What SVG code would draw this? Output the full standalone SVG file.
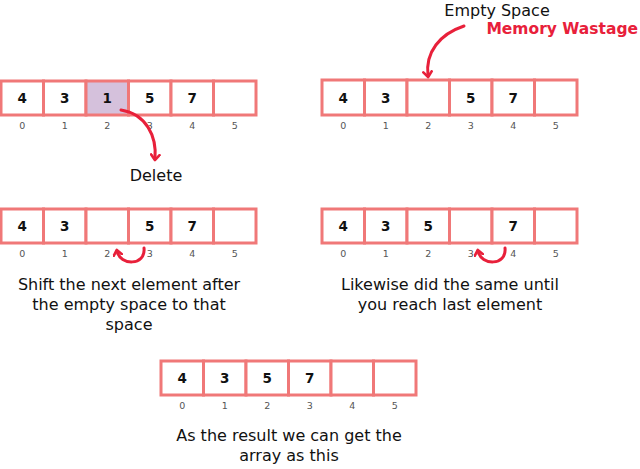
<svg xmlns="http://www.w3.org/2000/svg" width="640" height="469" viewBox="0 0 640 469">
<defs>
<style>
.cell{fill:#fff;stroke:#f07878;stroke-width:3}
.hl{fill:#d5c1dc}
.v{font-family:"DejaVu Sans","Noto Sans",sans-serif;font-weight:700;font-size:13.5px;fill:#111;text-anchor:middle}
.i{font-family:"DejaVu Sans","Noto Sans",sans-serif;font-size:9.5px;fill:#555;text-anchor:middle}
.t{font-family:"DejaVu Sans","Noto Sans",sans-serif;font-size:16px;fill:#111;text-anchor:middle}
.r{font-family:"DejaVu Sans","Noto Sans",sans-serif;font-size:15.5px;font-weight:700;fill:#e8203a;text-anchor:end}
.arr{fill:none;stroke:#e8203a;stroke-width:3;stroke-linecap:round}
</style>
<marker id="ah" viewBox="0 0 10 10" refX="5" refY="5" markerWidth="3.5" markerHeight="3.5" orient="auto">
<path d="M1,1 L6,5 L1,9" fill="none" stroke="#e8203a" stroke-width="2.5" stroke-linecap="round" stroke-linejoin="round"/>
</marker>
</defs>
<rect width="640" height="469" fill="#fff"/>

<g id="array1">
<rect class="cell" x="1" y="81" width="42.5" height="34"/>
<rect class="cell" x="43.5" y="81" width="42.5" height="34"/>
<rect class="cell hl" x="86" y="81" width="42.5" height="34"/>
<rect class="cell" x="128.5" y="81" width="42.5" height="34"/>
<rect class="cell" x="171" y="81" width="42.5" height="34"/>
<rect class="cell" x="213.5" y="81" width="42.5" height="34"/>
<text class="v" x="22.3" y="103">4</text>
<text class="v" x="64.8" y="103">3</text>
<text class="v" x="107.3" y="103">1</text>
<text class="v" x="149.8" y="103">5</text>
<text class="v" x="192.3" y="103">7</text>
<g class="i"><text x="22.3" y="129">0</text><text x="64.8" y="129">1</text><text x="107.3" y="129">2</text><text x="149.8" y="129">3</text><text x="192.3" y="129">4</text><text x="234.8" y="129">5</text></g>
</g>

<g id="array2">
<rect class="cell" x="322" y="80" width="42.5" height="35"/>
<rect class="cell" x="364.5" y="80" width="42.5" height="35"/>
<rect class="cell" x="407" y="80" width="42.5" height="35"/>
<rect class="cell" x="449.5" y="80" width="42.5" height="35"/>
<rect class="cell" x="492" y="80" width="42.5" height="35"/>
<rect class="cell" x="534.5" y="80" width="42.5" height="35"/>
<text class="v" x="343.3" y="103">4</text>
<text class="v" x="385.8" y="103">3</text>
<text class="v" x="470.8" y="103">5</text>
<text class="v" x="513.3" y="103">7</text>
<g class="i"><text x="343.3" y="129">0</text><text x="385.8" y="129">1</text><text x="428.3" y="129">2</text><text x="470.8" y="129">3</text><text x="513.3" y="129">4</text><text x="555.8" y="129">5</text></g>
</g>

<g id="array3">
<rect class="cell" x="1" y="209" width="42.5" height="34"/>
<rect class="cell" x="43.5" y="209" width="42.5" height="34"/>
<rect class="cell" x="86" y="209" width="42.5" height="34"/>
<rect class="cell" x="128.5" y="209" width="42.5" height="34"/>
<rect class="cell" x="171" y="209" width="42.5" height="34"/>
<rect class="cell" x="213.5" y="209" width="42.5" height="34"/>
<text class="v" x="22.3" y="231">4</text>
<text class="v" x="64.8" y="231">3</text>
<text class="v" x="149.8" y="231">5</text>
<text class="v" x="192.3" y="231">7</text>
<g class="i"><text x="22.3" y="257">0</text><text x="64.8" y="257">1</text><text x="107.3" y="257">2</text><text x="149.8" y="257">3</text><text x="192.3" y="257">4</text><text x="234.8" y="257">5</text></g>
</g>

<g id="array4">
<rect class="cell" x="322" y="209" width="42.5" height="34"/>
<rect class="cell" x="364.5" y="209" width="42.5" height="34"/>
<rect class="cell" x="407" y="209" width="42.5" height="34"/>
<rect class="cell" x="449.5" y="209" width="42.5" height="34"/>
<rect class="cell" x="492" y="209" width="42.5" height="34"/>
<rect class="cell" x="534.5" y="209" width="42.5" height="34"/>
<text class="v" x="343.3" y="231">4</text>
<text class="v" x="385.8" y="231">3</text>
<text class="v" x="428.3" y="231">5</text>
<text class="v" x="513.3" y="231">7</text>
<g class="i"><text x="343.3" y="257">0</text><text x="385.8" y="257">1</text><text x="428.3" y="257">2</text><text x="470.8" y="257">3</text><text x="513.3" y="257">4</text><text x="555.8" y="257">5</text></g>
</g>

<g id="array5">
<rect class="cell" x="161" y="361" width="42.5" height="34"/>
<rect class="cell" x="203.5" y="361" width="42.5" height="34"/>
<rect class="cell" x="246" y="361" width="42.5" height="34"/>
<rect class="cell" x="288.5" y="361" width="42.5" height="34"/>
<rect class="cell" x="331" y="361" width="42.5" height="34"/>
<rect class="cell" x="373.5" y="361" width="42.5" height="34"/>
<text class="v" x="182.3" y="383">4</text>
<text class="v" x="224.8" y="383">3</text>
<text class="v" x="267.3" y="383">5</text>
<text class="v" x="309.8" y="383">7</text>
<g class="i"><text x="182.3" y="409">0</text><text x="224.8" y="409">1</text><text x="267.3" y="409">2</text><text x="309.8" y="409">3</text><text x="352.3" y="409">4</text><text x="394.8" y="409">5</text></g>
</g>

<g id="labels">
<text class="t" x="497" y="16">Empty Space</text>
<text class="r" x="638" y="34">Memory Wastage</text>
<text class="t" x="156" y="181">Delete</text>
<text class="t" x="129" y="290">Shift the next element after</text>
<text class="t" x="129" y="310">the empty space to that</text>
<text class="t" x="129" y="330">space</text>
<text class="t" x="450" y="290">Likewise did the same until</text>
<text class="t" x="450" y="310">you reach last element</text>
<text class="t" x="289" y="441">As the result we can get the</text>
<text class="t" x="289" y="461">array as this</text>
</g>

<g id="connectors">
<path class="arr" marker-end="url(#ah)" d="M464,26 C440,34 425,52 428,76"/>
<path class="arr" marker-end="url(#ah)" d="M121,110 C146,114 157,136 155,159"/>
<path class="arr" marker-end="url(#ah)" d="M144,248 C146,266 120,266 117,251"/>
<path class="arr" marker-end="url(#ah)" d="M505,248 C507,266 481,266 478,251"/>
</g>
</svg>
